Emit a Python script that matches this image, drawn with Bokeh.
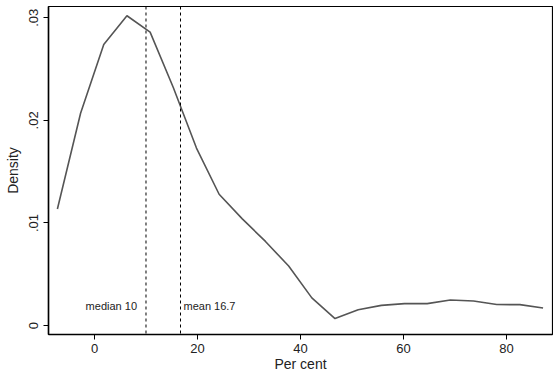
from bokeh.plotting import figure
from bokeh.models import Range1d, FixedTicker, Span, Label
from bokeh.embed import file_html
from bokeh.resources import INLINE

# Kernel density estimate
pct = [-7.2, -2.7, 1.8, 6.3, 10.8, 15.3, 19.8, 24.2, 28.7, 33.2, 37.7,
       42.2, 46.7, 51.2, 55.7, 60.2, 64.6, 69.1, 73.6, 78.1, 82.6, 87.1]
density = [0.01136, 0.0207, 0.0274, 0.0302, 0.0286, 0.0232, 0.0173, 0.0128,
           0.0104, 0.0082, 0.0058, 0.0027, 0.00068, 0.00155, 0.00197, 0.00214,
           0.00214, 0.0025, 0.0024, 0.00205, 0.00204, 0.00172]
median_val = 10
mean_val = 16.7
x_ticks = [0, 20, 40, 60, 80]
y_ticks = [0, 0.01, 0.02, 0.03]
y_tick_labels = ["0", ".01", ".02", ".03"]

FONT = "Liberation Sans"

p = figure(width=553, height=374, output_backend="svg", toolbar_location=None,
           x_range=Range1d(-8.93, 88.93), y_range=Range1d(-0.00087, 0.0311),
           min_border_left=48, min_border_right=1, min_border_top=6, min_border_bottom=39)
p.grid.visible = False
p.outline_line_color = "black"
p.outline_line_width = 1.2
p.background_fill_color = "white"
p.border_fill_color = "white"

p.line(pct, density, line_color="#555555", line_width=1.6)

for v in (median_val, mean_val):
    p.add_layout(Span(location=v, dimension="height", line_color="black",
                      line_width=1, line_dash="3 3"))

p.add_layout(Label(x=median_val, y=0.0019, text=f"median {median_val}", text_align="right",
                   text_baseline="middle", x_offset=-9, text_font=FONT,
                   text_font_size="11px", text_color="#222222"))
p.add_layout(Label(x=mean_val, y=0.0019, text=f"mean {mean_val}", text_align="left",
                   text_baseline="middle", x_offset=3, text_font=FONT,
                   text_font_size="11px", text_color="#222222"))

for ax in (p.xaxis[0], p.yaxis[0]):
    ax.axis_line_color = "black"
    ax.axis_line_width = 1.5
    ax.major_tick_line_color = "black"
    ax.major_tick_in = 0
    ax.major_tick_out = 5
    ax.minor_tick_line_color = None
    ax.major_label_text_font = FONT
    ax.major_label_text_font_size = "13px"
    ax.major_label_text_color = "#222222"
    ax.axis_label_text_font = FONT
    ax.axis_label_text_font_size = "14px"
    ax.axis_label_text_font_style = "normal"
    ax.axis_label_text_color = "#222222"

p.xaxis.ticker = FixedTicker(ticks=x_ticks)
p.xaxis.axis_label = "Per cent"
p.xaxis.major_label_standoff = 4
p.xaxis.axis_label_standoff = 0

p.yaxis.ticker = FixedTicker(ticks=y_ticks)
p.yaxis.major_label_overrides = {t: l for t, l in zip(y_ticks, y_tick_labels)}
p.yaxis.major_label_orientation = "vertical"
p.yaxis.axis_label = "Density"
p.yaxis.major_label_standoff = 5
p.yaxis.axis_label_standoff = 6

open("out.html", "w").write(file_html(p, INLINE))
